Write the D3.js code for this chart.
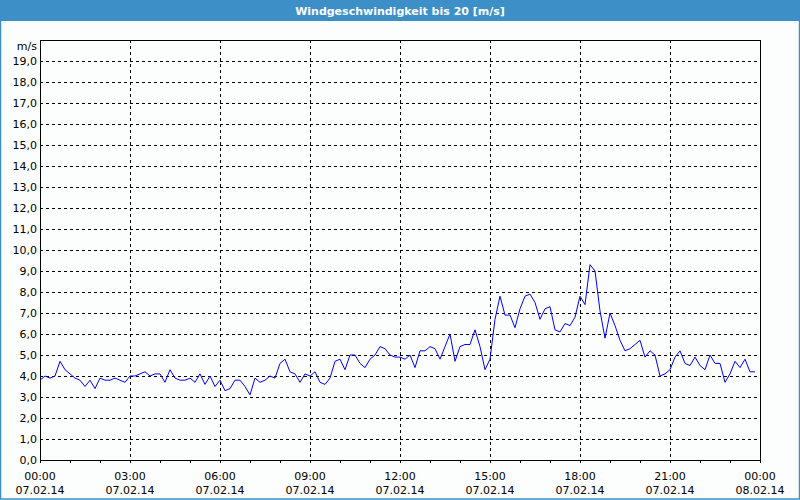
<!DOCTYPE html>
<html>
<head>
<meta charset="utf-8">
<script src="https://cdn.jsdelivr.net/npm/d3@7"></script>
<style>
  body { margin: 0; background: #fcfefd; }
  svg { display: block; }
  text { font-family: Tahoma, "DejaVu Sans", sans-serif; font-size: 11px; fill: #000; }
</style>
</head>
<body>
<svg id="chart" width="800" height="500"></svg>
<script>
// wind speed, 10 minute values, 07.02.14
const speed00to08 = [3.8, 4.0, 3.9, 4.0, 4.7, 4.3, 4.1, 3.9, 3.8, 3.5, 3.8, 3.4, 3.9, 3.8, 3.8, 3.9,
    3.8, 3.7, 4.0, 4.0, 4.1, 4.2, 4.0, 4.1, 4.1, 3.7, 4.3, 3.9, 3.8, 3.8, 3.9, 3.7,
    4.1, 3.6, 4.0, 3.5, 3.8, 3.3, 3.4, 3.8, 3.8, 3.5, 3.1, 3.9, 3.7, 3.8, 4.0, 3.9];
const speed08to16 = [4.6, 4.8, 4.2, 4.1, 3.7, 4.1, 4.0, 4.2, 3.7, 3.6, 3.9, 4.7, 4.8, 4.3, 5.0, 5.0,
    4.6, 4.4, 4.8, 5.0, 5.4, 5.3, 5.0, 4.9, 4.9, 4.8, 5.0, 4.4, 5.2, 5.2, 5.4, 5.3,
    4.8, 5.4, 6.0, 4.7, 5.4, 5.5, 5.5, 6.2, 5.4, 4.3, 4.8, 6.7, 7.8, 6.9, 6.9, 6.3];
const speed16to24 = [7.2, 7.8, 7.9, 7.5, 6.7, 7.2, 7.3, 6.2, 6.1, 6.5, 6.4, 6.8, 7.8, 7.4, 9.3, 9.0,
    7.1, 5.8, 7.0, 6.4, 5.7, 5.2, 5.3, 5.5, 5.7, 4.9, 5.2, 5.0, 4.0, 4.1, 4.3, 4.9,
    5.2, 4.6, 4.5, 4.9, 4.5, 4.3, 5.0, 4.6, 4.6, 3.7, 4.1, 4.7, 4.4, 4.8, 4.2, 4.2];

const yTicks = d3.range(0, 20, 1);
const title = "Windgeschwindigkeit bis 20 [m/s]";
const unitLabel = "m/s";

const start = new Date(2014, 1, 7, 0, 0);
const end = new Date(2014, 1, 8, 0, 0);
const speeds = speed00to08.concat(speed08to16, speed16to24);
const data = speeds.map((v, i) => ({ t: new Date(start.getTime() + i * 600000), v: v }));

const svg = d3.select("#chart");
const plot = { left: 40, right: 760, top: 40, bottom: 460 };

const x = d3.scaleTime().domain([start, end]).range([plot.left, plot.right]);
const y = d3.scaleLinear().domain([0, 20]).range([plot.bottom, plot.top]);

const de = d3.formatLocale({ decimal: ",", thousands: ".", grouping: [3], currency: ["", " €"] });
const fmtY = de.format(".1f");

// title bar
svg.append("rect").
attr("x", 0).attr("y", 0).attr("width", 800).attr("height", 21).
attr("fill", "#3c8fc7");

svg.append("text").
attr("x", 400).attr("y", 15).
style("text-anchor", "middle").
style("font-weight", "bold").
style("fill", "#fff").
text(title);

// outer frame
svg.append("rect").
attr("x", 0.5).attr("y", 0.5).attr("width", 799).attr("height", 498.5).
attr("fill", "none").
attr("stroke", "#3c8fc7").
attr("stroke-width", 1.5);

// grid
const xTicks = d3.timeHour.every(3).range(start, d3.timeMinute.offset(end, 1));
svg.append("g").
attr("stroke", "#000").
attr("stroke-dasharray", "3,3").
selectAll("line").
data(yTicks.filter(d => d > 0)).
join("line").
attr("x1", plot.left).attr("x2", plot.right).
attr("y1", d => Math.round(y(d)) + 0.5).
attr("y2", d => Math.round(y(d)) + 0.5);

svg.append("g").
attr("stroke", "#000").
attr("stroke-dasharray", "3,3").
selectAll("line").
data(xTicks.slice(1, -1)).
join("line").
attr("x1", d => Math.round(x(d)) + 0.5).
attr("x2", d => Math.round(x(d)) + 0.5).
attr("y1", plot.top).attr("y2", plot.bottom);

// y axis labels
svg.append("g").
selectAll("text").
data(yTicks).
join("text").
attr("x", 37).
attr("y", d => y(d) + 4).
style("text-anchor", "end").
text(d => fmtY(d));

svg.append("text").
attr("x", 37).attr("y", 50).
style("text-anchor", "end").
text(unitLabel);

// x axis: hourly ticks, labels every 3 hours
svg.append("g").
attr("transform", "translate(0," + plot.bottom + ")").
call(d3.axisBottom(x).ticks(d3.timeHour.every(1)).tickSize(3).tickFormat("")).
call(g => g.select(".domain").remove()).
selectAll("line").attr("stroke", "#000");

const xLabels = svg.append("g").
selectAll("text").
data(xTicks).
join("text").
attr("x", d => x(d)).
attr("y", 480).
style("text-anchor", "middle");

xLabels.append("tspan").
attr("x", d => x(d)).
text(d3.timeFormat("%H:%M"));

xLabels.append("tspan").
attr("x", d => x(d)).
attr("dy", 14).
text(d3.timeFormat("%d.%m.%y"));

// plot border
svg.append("rect").
attr("x", plot.left + 0.5).attr("y", plot.top + 0.5).
attr("width", plot.right - plot.left).attr("height", plot.bottom - plot.top).
attr("fill", "none").
attr("stroke", "#000");

// wind speed line
svg.append("path").
datum(data).
attr("fill", "none").
attr("stroke", "#0000ff").
attr("stroke-width", 1).
attr("d", d3.line().x(d => x(d.t)).y(d => y(d.v)));
</script>
</body>
</html>
